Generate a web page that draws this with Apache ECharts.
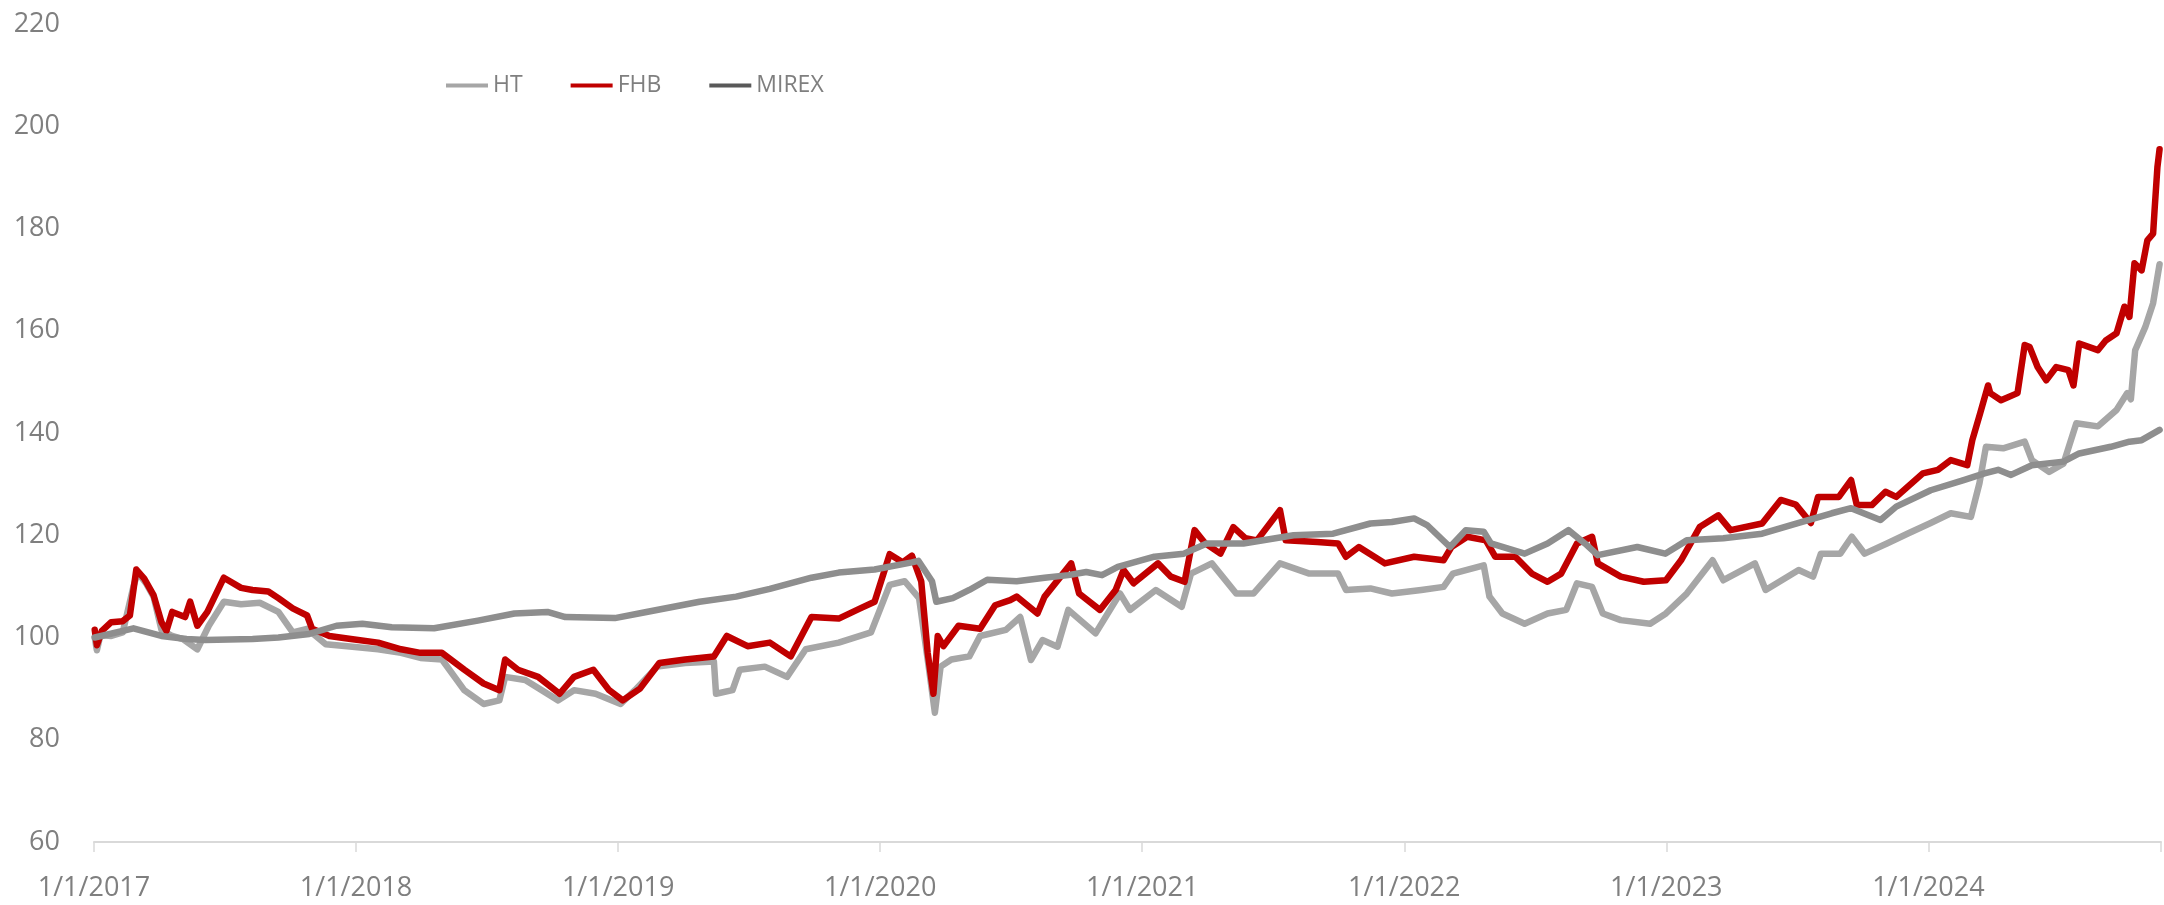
<!DOCTYPE html>
<html lang="en" style="height: 100%">
<head>
  <meta charset="utf-8">
  <title>HT / FHB / MIREX</title>
</head>
<body style="height: 100%; margin: 0; background: #fff">
  <div id="container" style="width: 2164px; height: 905px"></div>

  <script type="text/javascript" src="https://cdn.jsdelivr.net/npm/echarts@6/dist/echarts.min.js"></script>
  <script type="text/javascript">
// index values
const seriesNames = ['HT', 'FHB', 'MIREX'];
const yearLabels = ['1/1/2017', '1/1/2018', '1/1/2019', '1/1/2020', '1/1/2021', '1/1/2022', '1/1/2023', '1/1/2024'];

const htData = [
  ['2017-01-02', 100], ['2017-01-05', 97.5], ['2017-01-10', 100.5], ['2017-01-25', 100.3], ['2017-02-10', 101],
  ['2017-02-25', 110], ['2017-03-03', 112.7], ['2017-03-15', 110.5], ['2017-03-25', 108], ['2017-04-05', 101.5],
  ['2017-04-20', 100.3], ['2017-05-05', 99.7], ['2017-05-25', 97.7], ['2017-06-10', 102.3], ['2017-07-01', 107],
  ['2017-07-25', 106.5], ['2017-08-20', 106.8], ['2017-09-15', 105], ['2017-10-05', 101], ['2017-10-25', 101.7],
  ['2017-11-20', 98.7], ['2017-12-20', 98.3], ['2018-02-01', 97.7], ['2018-03-05', 97], ['2018-04-01', 96],
  ['2018-05-01', 95.7], ['2018-06-01', 89.7], ['2018-06-28', 87], ['2018-07-20', 87.7], ['2018-07-28', 92.3],
  ['2018-08-25', 91.7], ['2018-10-10', 87.7], ['2018-11-01', 89.7], ['2018-12-01', 89], ['2019-01-05', 87],
  ['2019-01-25', 89.7], ['2019-02-25', 94.3], ['2019-04-05', 95], ['2019-05-15', 95.3], ['2019-05-18', 89],
  ['2019-06-10', 89.7], ['2019-06-20', 93.7], ['2019-07-25', 94.3], ['2019-08-25', 92.3], ['2019-09-20', 97.7],
  ['2019-11-05', 99], ['2019-12-20', 101], ['2020-01-15', 110.3], ['2020-02-05', 111], ['2020-02-25', 107.7],
  ['2020-03-10', 93.7], ['2020-03-18', 85.3], ['2020-03-26', 94.3], ['2020-04-10', 95.7], ['2020-05-05', 96.3],
  ['2020-05-20', 100.3], ['2020-06-25', 101.5], ['2020-07-15', 104], ['2020-07-30', 95.6], ['2020-08-15', 99.5],
  ['2020-09-05', 98.2], ['2020-09-20', 105.4], ['2020-10-28', 100.8], ['2020-12-01', 108.6], ['2020-12-15', 105.4],
  ['2021-01-20', 109.3], ['2021-02-25', 106], ['2021-03-10', 112.5], ['2021-04-08', 114.5], ['2021-05-12', 108.6],
  ['2021-06-05', 108.6], ['2021-07-12', 114.5], ['2021-08-22', 112.5], ['2021-10-01', 112.5], ['2021-10-12', 109.3],
  ['2021-11-15', 109.6], ['2021-12-15', 108.6], ['2022-01-25', 109.3], ['2022-02-25', 109.9], ['2022-03-10', 112.5],
  ['2022-04-22', 114.1], ['2022-04-30', 108], ['2022-05-18', 104.7], ['2022-06-18', 102.7], ['2022-07-20', 104.7],
  ['2022-08-15', 105.4], ['2022-08-30', 110.6], ['2022-09-20', 109.9], ['2022-10-05', 104.7], ['2022-10-30', 103.4],
  ['2022-12-10', 102.7], ['2023-01-01', 104.7], ['2023-01-30', 108.6], ['2023-03-07', 115.1], ['2023-03-22', 111.2],
  ['2023-05-05', 114.5], ['2023-05-20', 109.3], ['2023-07-05', 113.2], ['2023-07-25', 111.9], ['2023-08-05', 116.4],
  ['2023-09-01', 116.4], ['2023-09-17', 119.7], ['2023-10-05', 116.4], ['2023-11-05', 118.4], ['2023-12-05', 120.4],
  ['2024-01-05', 122.4], ['2024-02-02', 124.3], ['2024-03-01', 123.6], ['2024-03-13', 130.2], ['2024-03-22', 137.3],
  ['2024-04-15', 137], ['2024-05-15', 138.3], ['2024-05-25', 134.7], ['2024-06-18', 132.4], ['2024-07-08', 134],
  ['2024-07-26', 141.9], ['2024-08-25', 141.3], ['2024-09-20', 144.5], ['2024-10-05', 147.8], ['2024-10-10', 146.6],
  ['2024-10-16', 156.2], ['2024-10-30', 160.7], ['2024-11-10', 165.4], ['2024-11-19', 173]
];

const fhbData = [
  ['2017-01-02', 101.5], ['2017-01-05', 98.5], ['2017-01-12', 101.3], ['2017-01-25', 103], ['2017-02-10', 103.2],
  ['2017-02-20', 104.3], ['2017-03-01', 113.3], ['2017-03-12', 111.5], ['2017-03-25', 108.3], ['2017-04-05', 103],
  ['2017-04-12', 101.3], ['2017-04-20', 105], ['2017-05-08', 104], ['2017-05-15', 107], ['2017-05-25', 102.3],
  ['2017-06-08', 105], ['2017-07-01', 111.7], ['2017-07-25', 109.7], ['2017-08-10', 109.3], ['2017-09-01', 109],
  ['2017-09-15', 107.7], ['2017-10-05', 105.7], ['2017-10-25', 104.3], ['2017-11-01', 101.7], ['2017-11-25', 100.3],
  ['2017-12-25', 99.7], ['2018-02-01', 99], ['2018-03-05', 97.7], ['2018-04-01', 97], ['2018-05-01', 97],
  ['2018-06-01', 93.7], ['2018-06-28', 91], ['2018-07-20', 89.7], ['2018-07-28', 95.7], ['2018-08-15', 93.7],
  ['2018-09-12', 92.3], ['2018-10-12', 89], ['2018-11-01', 92.3], ['2018-11-28', 93.7], ['2018-12-20', 89.7],
  ['2019-01-08', 87.7], ['2019-02-01', 90], ['2019-02-28', 95], ['2019-04-05', 95.7], ['2019-05-15', 96.3],
  ['2019-06-02', 100.3], ['2019-07-01', 98.3], ['2019-08-01', 99], ['2019-08-30', 96.3], ['2019-09-28', 104],
  ['2019-11-05', 103.7], ['2019-12-05', 105.7], ['2019-12-25', 107], ['2020-01-15', 116.3], ['2020-02-02', 114.7],
  ['2020-02-15', 116], ['2020-02-28', 111], ['2020-03-08', 97], ['2020-03-16', 89], ['2020-03-22', 100.3],
  ['2020-03-30', 98.3], ['2020-04-20', 102.3], ['2020-05-20', 101.7], ['2020-06-10', 106.3], ['2020-07-01', 107.3],
  ['2020-07-10', 108], ['2020-08-08', 104.7], ['2020-08-18', 108], ['2020-09-24', 114.5], ['2020-10-05', 108.6],
  ['2020-11-03', 105.4], ['2020-11-25', 109.3], ['2020-12-06', 113.2], ['2020-12-20', 110.6], ['2021-01-23', 114.5],
  ['2021-02-10', 111.9], ['2021-03-01', 110.9], ['2021-03-15', 121], ['2021-03-30', 118.4], ['2021-04-20', 116.4],
  ['2021-05-08', 121.6], ['2021-05-25', 119.4], ['2021-06-10', 119], ['2021-07-12', 124.9], ['2021-07-20', 119],
  ['2021-09-02', 118.7], ['2021-10-01', 118.4], ['2021-10-12', 115.8], ['2021-10-30', 117.7], ['2021-12-05', 114.5],
  ['2022-01-15', 115.8], ['2022-02-25', 115.1], ['2022-03-08', 117.7], ['2022-03-30', 119.7], ['2022-04-25', 119],
  ['2022-05-08', 115.8], ['2022-06-05', 115.8], ['2022-06-28', 112.5], ['2022-07-20', 110.9], ['2022-08-08', 112.5],
  ['2022-08-30', 118.4], ['2022-09-20', 119.7], ['2022-09-28', 114.5], ['2022-10-30', 111.9], ['2022-12-01', 110.9],
  ['2023-01-01', 111.2], ['2023-01-22', 115.1], ['2023-02-17', 121.6], ['2023-03-15', 123.9], ['2023-04-01', 121],
  ['2023-05-15', 122.3], ['2023-06-10', 126.9], ['2023-07-01', 126], ['2023-07-22', 122.4], ['2023-08-01', 127.5],
  ['2023-08-30', 127.5], ['2023-09-16', 130.8], ['2023-09-24', 125.9], ['2023-10-15', 125.9], ['2023-11-03', 128.5],
  ['2023-11-18', 127.5], ['2023-12-25', 132.1], ['2024-01-15', 132.8], ['2024-02-02', 134.7], ['2024-02-25', 133.7],
  ['2024-03-03', 138.6], ['2024-03-14', 143.9], ['2024-03-25', 149.3], ['2024-03-28', 147.8], ['2024-04-12', 146.4],
  ['2024-05-05', 147.8], ['2024-05-15', 157.2], ['2024-05-22', 156.8], ['2024-06-02', 152.9], ['2024-06-14', 150.3],
  ['2024-06-28', 152.9], ['2024-07-15', 152.3], ['2024-07-22', 149.3], ['2024-07-30', 157.5], ['2024-08-25', 156.2],
  ['2024-09-05', 158.1], ['2024-09-20', 159.5], ['2024-10-01', 164.7], ['2024-10-08', 162.7], ['2024-10-15', 173.2],
  ['2024-10-25', 171.8], ['2024-11-02', 177.7], ['2024-11-10', 179], ['2024-11-12', 183.5], ['2024-11-16', 192],
  ['2024-11-19', 195.5]
];

const mirexData = [
  ['2017-01-02', 100], ['2017-02-25', 101.8], ['2017-04-05', 100.3], ['2017-05-10', 99.7], ['2017-06-05', 99.5],
  ['2017-08-10', 99.7], ['2017-09-15', 100], ['2017-10-28', 100.7], ['2017-12-05', 102.3], ['2018-01-10', 102.7],
  ['2018-02-20', 102], ['2018-04-20', 101.8], ['2018-06-20', 103.3], ['2018-08-10', 104.7], ['2018-09-25', 105],
  ['2018-10-20', 104], ['2018-12-28', 103.8], ['2019-02-10', 105], ['2019-04-25', 107], ['2019-06-15', 108],
  ['2019-08-01', 109.5], ['2019-09-28', 111.7], ['2019-11-05', 112.7], ['2019-12-25', 113.3], ['2020-02-15', 114.7],
  ['2020-02-24', 115], ['2020-03-14', 111], ['2020-03-20', 107], ['2020-04-12', 107.7], ['2020-05-05', 109.3],
  ['2020-05-30', 111.3], ['2020-07-10', 111], ['2020-08-18', 111.7], ['2020-09-20', 112.2], ['2020-10-15', 112.8],
  ['2020-11-06', 112.2], ['2020-11-28', 113.8], ['2021-01-18', 115.8], ['2021-02-28', 116.4], ['2021-04-01', 118.4],
  ['2021-05-22', 118.4], ['2021-07-31', 120], ['2021-09-24', 120.3], ['2021-11-15', 122.3], ['2021-12-15', 122.6],
  ['2022-01-15', 123.3], ['2022-02-02', 122], ['2022-03-06', 117.7], ['2022-03-28', 121], ['2022-04-22', 120.7],
  ['2022-05-02', 118.4], ['2022-06-18', 116.4], ['2022-07-20', 118.4], ['2022-08-18', 121], ['2022-09-10', 118.4],
  ['2022-09-28', 116.1], ['2022-11-22', 117.7], ['2022-12-31', 116.4], ['2023-01-30', 119], ['2023-03-22', 119.4],
  ['2023-05-15', 120.3], ['2023-07-05', 122.4], ['2023-08-20', 124.3], ['2023-09-16', 125.3], ['2023-10-27', 123],
  ['2023-11-18', 125.6], ['2024-01-05', 128.8], ['2024-02-20', 130.8], ['2024-03-20', 132.1], ['2024-04-08', 132.8],
  ['2024-04-26', 131.8], ['2024-05-25', 133.7], ['2024-07-08', 134.4], ['2024-07-30', 136], ['2024-09-12', 137.3],
  ['2024-10-08', 138.3], ['2024-10-25', 138.6], ['2024-11-19', 140.6]
];

const seriesColors = ['#A6A6A6', '#C00000', '#8E8E8E'];
const legendColors = ['#A6A6A6', '#C00000', '#595959'];

// days since 1/1/2017, so the x axis is a plain value axis
const DAY0 = Date.UTC(2017, 0, 1);
function toDay(s) {
  return (Date.UTC(+s.slice(0, 4), +s.slice(5, 7) - 1, +s.slice(8, 10)) - DAY0) / 86400000;
}
function toPoints(arr) {
  return arr.map(function (d) { return [toDay(d[0]), d[1]]; });
}

var dom = document.getElementById('container');
var myChart = echarts.init(dom, null, { renderer: 'canvas' });

const allData = [htData, fhbData, mirexData];
const YEAR = 365.25;

var option = {
  animation: false,
  backgroundColor: '#ffffff',
  textStyle: { fontFamily: 'Open Sans' },
  grid: { left: 94, right: 0, top: 24, bottom: 63 },
  legend: {
    left: 441,
    top: 69,
    icon: 'rect',
    itemWidth: 42,
    itemHeight: 4,
    itemGap: 48,
    textStyle: { fontFamily: 'Open Sans', fontSize: 23, color: '#7F7F7F' },
    data: seriesNames.map(function (n, i) {
      return { name: n, itemStyle: { color: legendColors[i] } };
    })
  },
  xAxis: {
    type: 'value',
    min: 0,
    max: 2881,
    interval: YEAR,
    splitLine: { show: false },
    axisLine: { show: true, lineStyle: { color: '#D9D9D9', width: 2 } },
    axisTick: { show: true, length: 10, lineStyle: { color: '#D9D9D9', width: 1.5 } },
    axisLabel: {
      margin: 33,
      fontFamily: 'Open Sans',
      fontSize: 27,
      color: '#7F7F7F',
      formatter: function (v) {
        const k = v / YEAR;
        const r = Math.round(k);
        if (Math.abs(k - r) > 0.01 || r >= yearLabels.length) return '';
        return yearLabels[r];
      }
    }
  },
  yAxis: {
    type: 'value',
    min: 60,
    max: 220,
    interval: 20,
    splitLine: { show: false },
    axisLine: { show: false },
    axisTick: { show: false },
    axisLabel: { margin: 34, fontFamily: 'Open Sans', fontSize: 27, color: '#7F7F7F' }
  },
  series: seriesNames.map(function (n, i) {
    return {
      name: n,
      type: 'line',
      symbol: 'none',
      showSymbol: false,
      color: seriesColors[i],
      lineStyle: { width: 6.5, color: seriesColors[i], join: 'round', cap: 'round' },
      data: toPoints(allData[i])
    };
  })
};

myChart.setOption(option);
window.addEventListener('resize', myChart.resize);
  </script>
</body>
</html>
